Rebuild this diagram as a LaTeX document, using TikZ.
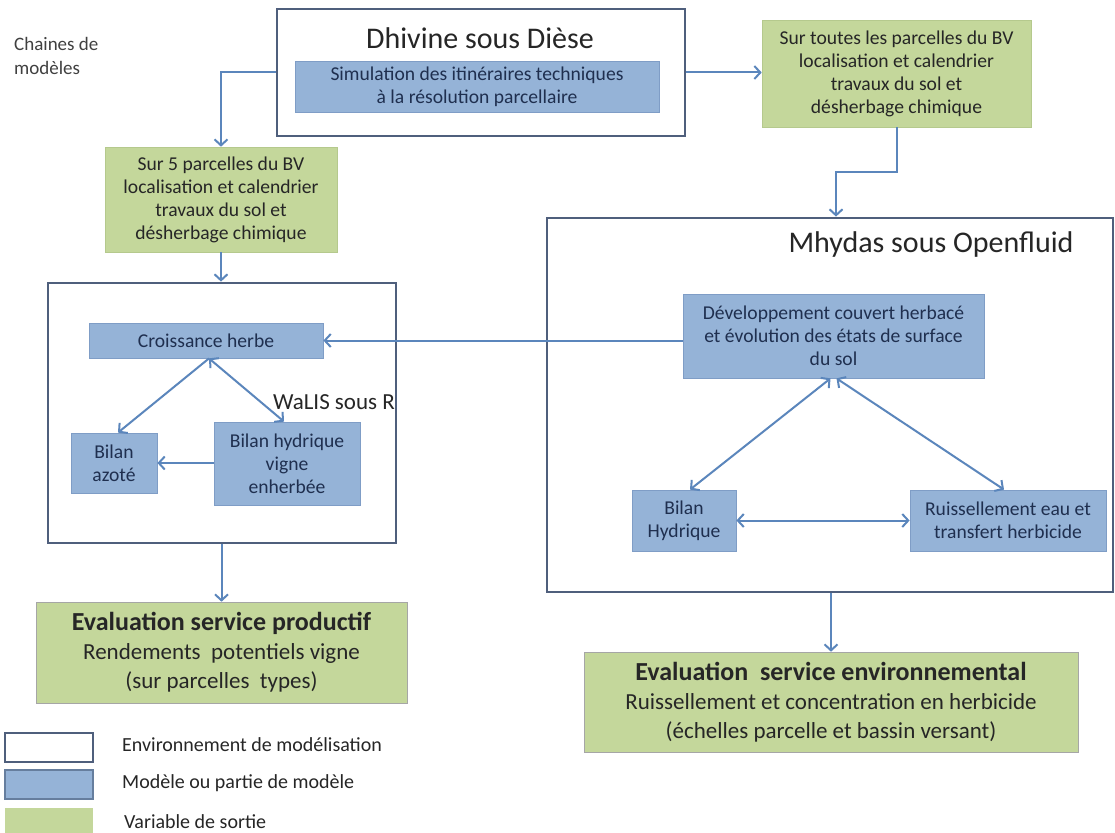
\documentclass[tikz,border=0pt]{standalone}
\usepackage{fontspec}
\setmainfont{Carlito}
\usetikzlibrary{arrows.meta,calc}
\definecolor{envc}{HTML}{4F5F7C}
\definecolor{bluef}{HTML}{95B3D7}
\definecolor{blued}{HTML}{7F9DC6}
\definecolor{greenf}{HTML}{C4D79B}
\definecolor{greend}{HTML}{B5C98D}
\definecolor{arrc}{HTML}{5B86BC}
\definecolor{txt}{HTML}{262626}
\definecolor{btxt}{HTML}{1F2F4F}
\tikzset{
  envbox/.style={draw=envc,line width=2.8pt,fill=white,inner sep=0pt},
  modbox/.style={draw=blued,line width=0.8pt,fill=bluef,inner sep=0pt,align=center,text=btxt,font=\fontsize{19.6}{23}\selectfont},
  outbox/.style={draw=greend,line width=0.6pt,fill=greenf,inner sep=0pt,align=center,text=txt,font=\fontsize{19.6}{23}\selectfont},
  evbox/.style={outbox,draw=gray!70,font=\fontsize{23}{29}\selectfont},
  ttl/.style={inner sep=0pt,text=txt,font=\fontsize{30}{34}\selectfont},
  lbl/.style={inner sep=0pt,text=txt,font=\fontsize{20}{24}\selectfont,align=left},
  conn/.style={draw=arrc,line width=2pt},
  arr/.style={conn,-{Straight Barb[length=6pt,width=13pt,line width=2pt]}},
  darr/.style={conn,{Straight Barb[length=6pt,width=13pt,line width=2pt]}-{Straight Barb[length=6pt,width=13pt,line width=2pt]}}
}
\begin{document}
\begin{tikzpicture}[x=1pt,y=-1pt]
\useasboundingbox (0,0) rectangle (1115,832);
\fill[white] (0,0) rectangle (1115,832);

% label top-left
\node[lbl,anchor=north west,text=black!75,font=\fontsize{19}{24}\selectfont] (chain) at (14,37) {Chaines de\\modèles};

% Dhivine environment
\node[envbox,minimum width=408pt,minimum height=127pt] (dh) at (481,72.5) {};
\node[ttl] (dht) at (480,38) {Dhivine sous Dièse};
\node[modbox,minimum width=364pt,minimum height=51pt] (sim) at (477,86.5) {Simulation des itinéraires techniques\\à la résolution parcellaire};

% green outputs top
\node[outbox,minimum width=269pt,minimum height=107pt] (gr) at (896.5,73.5) {Sur toutes les parcelles du BV\\localisation et calendrier\\travaux du sol et\\désherbage chimique};
\node[outbox,minimum width=232pt,minimum height=105pt] (gl) at (221,199.5) {Sur 5 parcelles du BV\\localisation et calendrier\\travaux du sol et\\désherbage chimique};

% WaLIS environment
\node[envbox,minimum width=348pt,minimum height=260pt] (wa) at (222,413) {};
\node[modbox,minimum width=234pt,minimum height=35pt] (cr) at (206,340.5) {Croissance herbe};
\node[modbox,minimum width=86pt,minimum height=60pt] (az) at (114,463) {Bilan\\azoté};
\node[modbox,minimum width=146pt,minimum height=83pt] (bhv) at (287,463.5) {Bilan hydrique\\vigne\\enherbée};
\node[inner sep=0pt,text=txt,font=\fontsize{23}{27}\selectfont] (wat) at (334,402) {WaLIS sous R};

% Mhydas environment
\node[envbox,minimum width=566pt,minimum height=374pt] (mh) at (830,405) {};
\node[ttl] (mht) at (931,244) {Mhydas sous Openfluid};
\node[modbox,minimum width=301pt,minimum height=84pt] (dev) at (833.5,336) {Développement couvert herbacé\\et évolution des états de surface\\du sol};
\node[modbox,minimum width=104pt,minimum height=61pt] (bh) at (684,520.5) {Bilan\\Hydrique};
\node[modbox,minimum width=196pt,minimum height=61pt] (ru) at (1008,520.5) {Ruissellement eau et\\transfert herbicide};

% evaluations
\node[evbox,minimum width=371pt,minimum height=101pt] (ep) at (221.5,652.5) {{\fontsize{26}{29}\selectfont\bfseries Evaluation service productif}\\Rendements\ \ potentiels vigne\\(sur parcelles\ \ types)};
\node[evbox,minimum width=494pt,minimum height=100pt] (ee) at (831,702) {{\fontsize{26}{29}\selectfont\bfseries Evaluation\ \ service environnemental}\\Ruissellement et concentration en herbicide\\(échelles parcelle et bassin versant)};

% legend
\node[envbox,line width=2.2pt,minimum width=88pt,minimum height=29pt] (lg1) at (49,747.5) {};
\node[modbox,draw=blued!80!black,line width=1.2pt,minimum width=88pt,minimum height=29pt] (lg2) at (49,784.5) {};
\node[outbox,draw=none,minimum width=88pt,minimum height=28pt] (lg3) at (49,822) {};
\node[lbl,anchor=west] (lt1) at (122,745) {Environnement de modélisation};
\node[lbl,anchor=west] (lt2) at (122,783) {Modèle ou partie de modèle};
\node[lbl,anchor=west] (lt3) at (124,822) {Variable de sortie};

% connectors
\draw[arr] (dh.west) -| (gl.north);
\draw[arr] (dh.east) -- (dh.east -| gr.west);
\coordinate (jog) at (836,172);
\draw[arr] (gr.south) |- (jog) -- (jog |- mh.north);
\draw[arr] (gl.south) -- (gl.south |- wa.north);
\draw[arr] (dev.west |- cr.east) -- (cr.east);
\draw[arr] ($(cr.south)+(3,0)$) -- ($(az.north)+(4,0)$);
\draw[darr] ($(cr.south)+(3,0)$) -- ($(bhv.north)+(-3,0)$);
\draw[arr] (bhv.west |- az.east) -- (az.east);
\draw[arr] (wa.south -| ep.north) -- (ep.north);
\draw[darr] ($(dev.south)+(-3,0)$) -- ($(bh.north)+(6,0)$);
\draw[darr] ($(dev.south)+(3,0)$) -- ($(ru.north)+(-4,0)$);
\draw[darr] (bh.east) -- (ru.west);
\draw[arr] (mh.south -| ee.north) -- (ee.north);
\end{tikzpicture}
\end{document}
